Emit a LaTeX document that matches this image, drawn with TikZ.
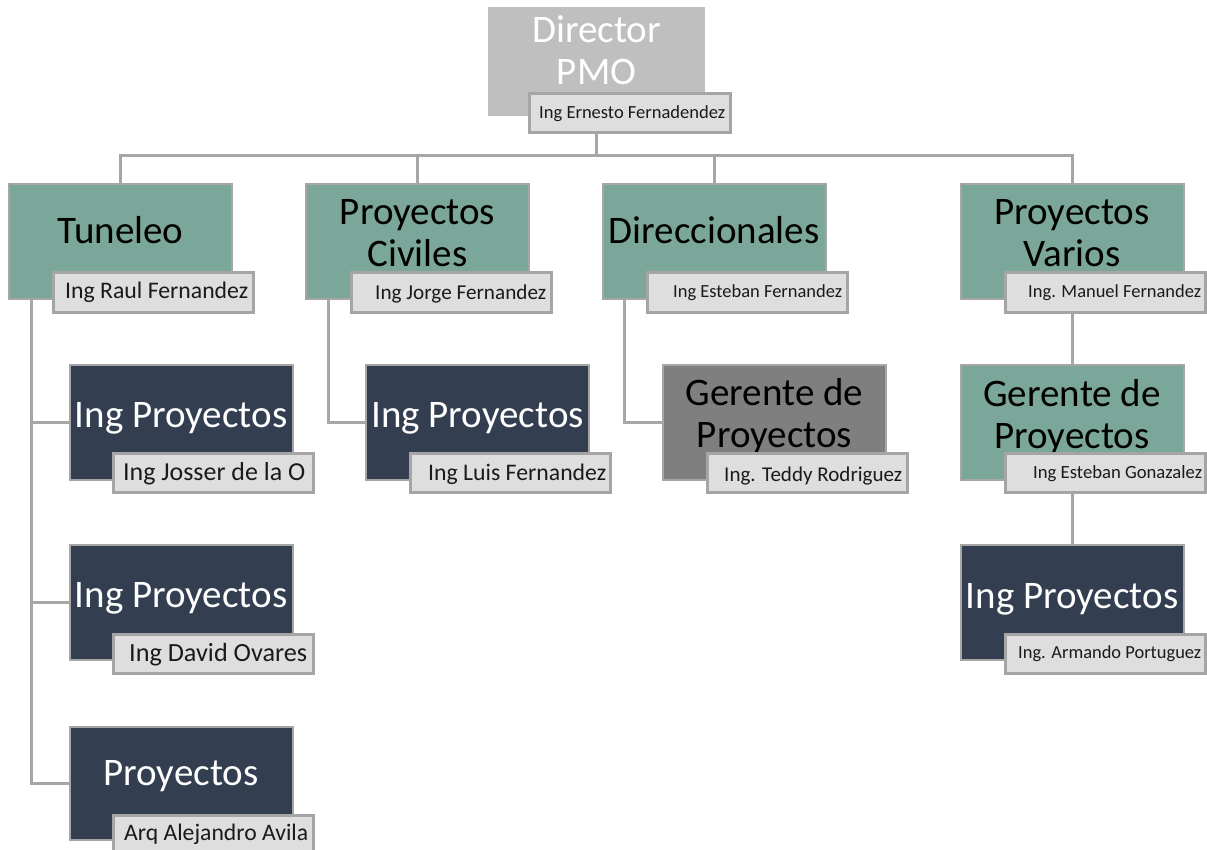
\documentclass[tikz,border=0pt]{standalone}
\usepackage{fontspec}
\setmainfont{Carlito}
\usepackage{graphicx}
\usetikzlibrary{calc}

\definecolor{orgTeal}{HTML}{7AA79A}
\definecolor{orgNavy}{HTML}{333F50}
\definecolor{orgGray}{HTML}{7F7F7F}
\definecolor{orgLight}{HTML}{BFBFBF}
\definecolor{boxEdge}{HTML}{A6A6A6}
\definecolor{tagEdge}{HTML}{A5A5A5}
\definecolor{tagFill}{HTML}{DDDEDD}
\definecolor{lineGray}{HTML}{A6A6A6}
\definecolor{nameInk}{HTML}{1A1A1A}

% two centred lines, baseline on the first one
\newcommand\tworow[2]{\begin{tabular}[t]{@{}c@{}}#1\\#2\end{tabular}}
% a name squeezed to a given width
\newcommand\fitname[2]{\resizebox{#1pt}{!}{\fontsize{20}{24}\selectfont #2}}

\tikzset{
  orgbox/.style={rectangle, draw=boxEdge, line width=2pt, inner sep=0pt,
               minimum width=223pt, minimum height=115pt},
  tealbox/.style={orgbox, fill=orgTeal},
  navybox/.style={orgbox, fill=orgNavy},
  graybox/.style={orgbox, fill=orgGray},
  nametag/.style={rectangle, draw=tagEdge, line width=3pt, fill=tagFill, inner sep=0pt,
              minimum width=200pt, minimum height=39pt},
  roletext/.style={anchor=base, inner sep=0pt, font=\fontsize{39}{42}\selectfont},
  darkrole/.style={roletext, text=black},
  lightrole/.style={roletext, text=white},
  persontext/.style={anchor=base west, inner sep=0pt, text=nameInk},
  conn/.style={draw=lineGray, line width=3pt}
}

\begin{document}
\begin{tikzpicture}[x=1pt, y=-1pt]
\useasboundingbox (0,0) rectangle (1207,850);

% ---------- director ----------
\node[orgbox, draw=none, fill=orgLight, minimum width=217pt, minimum height=109pt] (pmo) at (596.5,61.5) {};
\node[lightrole] (pmoT) at (596.5,43) {\tworow{Director}{PMO}};
\node[nametag, minimum width=201pt] (pmoL) at (629.5,113.5) {};
\node[persontext] (pmoN) at (539,119) {\fitname{186}{Ing Ernesto Fernadendez}};

% ---------- first level ----------
\node[tealbox] (tun) at (120.5,241.5) {};
\node[darkrole] (tunT) at (120.5,244) {Tuneleo};
\node[nametag] (tunL) at (153,292.5) {};
\node[persontext] (tunN) at (65,299) {\fitname{183}{Ing Raul Fernandez}};

\node[tealbox] (civ) at (417.5,241.5) {};
\node[darkrole] (civT) at (417.5,225) {\tworow{Proyectos}{Civiles}};
\node[nametag] (civL) at (451,292.5) {};
\node[persontext] (civN) at (375,299) {\fitname{171}{Ing Jorge Fernandez}};

\node[tealbox] (dir) at (714,241.5) {};
\node[darkrole] (dirT) at (714,244) {Direccionales};
\node[nametag] (dirL) at (747,292.5) {};
\node[persontext] (dirN) at (673,298) {\fitname{169}{Ing Esteban Fernandez}};

\node[tealbox] (var) at (1072,241.5) {};
\node[darkrole] (varT) at (1072,225) {\tworow{Proyectos}{Varios}};
\node[nametag] (varL) at (1105,292.5) {};
\node[persontext] (varN) at (1028,298) {\fitname{173}{Ing. Manuel Fernandez}};

% ---------- second level ----------
\node[navybox] (ipA) at (181,422.5) {};
\node[lightrole] (ipAT) at (181,427) {Ing Proyectos};
\node[nametag] (ipAL) at (213.5,473) {};
\node[persontext] (ipAN) at (123,480) {\fitname{182}{Ing Josser de la O}};

\node[navybox] (ipB) at (181,602.5) {};
\node[lightrole] (ipBT) at (181,607) {Ing Proyectos};
\node[nametag] (ipBL) at (213.5,653.5) {};
\node[persontext] (ipBN) at (129,661) {\fitname{178}{Ing David Ovares}};

\node[navybox, minimum height=113pt] (pro) at (181,783.5) {};
\node[lightrole] (proT) at (181,785) {Proyectos};
\node[nametag, minimum height=40pt] (proL) at (213.5,835) {};
\node[persontext] (proN) at (124,840) {\fitname{184}{Arq Alejandro Avila}};

\node[navybox] (ipC) at (477.5,422.5) {};
\node[lightrole] (ipCT) at (477.5,427) {Ing Proyectos};
\node[nametag] (ipCL) at (510.5,473) {};
\node[persontext] (ipCN) at (428,480) {\fitname{178}{Ing Luis Fernandez}};

\node[graybox] (gerD) at (774.5,422.5) {};
\node[darkrole] (gerDT) at (774.5,405) {\tworow{Gerente de}{Proyectos}};
\node[nametag] (gerDL) at (807.5,473) {};
\node[persontext] (gerDN) at (724,481) {\fitname{178}{Ing. Teddy Rodriguez}};

\node[tealbox] (gerV) at (1072,422.5) {};
\node[darkrole] (gerVT) at (1072,406) {\tworow{Gerente de}{Proyectos}};
\node[nametag] (gerVL) at (1105,473) {};
\node[persontext] (gerVN) at (1033,478) {\fitname{169}{Ing Esteban Gonazalez}};

\node[navybox] (ipV) at (1072,602.5) {};
\node[lightrole] (ipVT) at (1072,608) {Ing Proyectos};
\node[nametag] (ipVL) at (1105,653.5) {};
\node[persontext] (ipVN) at (1018,658) {\fitname{183}{Ing. Armando Portuguez}};

% ---------- connectors ----------
\coordinate (bus) at (0,156);
\draw[conn] (pmo.south |- pmoL.south) -- (pmo.south |- bus);
\draw[conn] (tun.north) -- (tun.north |- bus) -- (var.north |- bus) -- (var.north);
\draw[conn] (civ.north) -- (civ.north |- bus);
\draw[conn] (dir.north) -- (dir.north |- bus);

\coordinate (tunSp) at ($(tun.south west)+(23,0)$);
\draw[conn] (tunSp) |- (pro.west);
\draw[conn] (tunSp |- ipA.west) -- (ipA.west);
\draw[conn] (tunSp |- ipB.west) -- (ipB.west);

\coordinate (civSp) at ($(civ.south west)+(23,0)$);
\draw[conn] (civSp) |- (ipC.west);

\coordinate (dirSp) at ($(dir.south west)+(23,0)$);
\draw[conn] (dirSp) |- (gerD.west);

\draw[conn] (var.south |- varL.south) -- (gerV.north);
\draw[conn] (gerV.south |- gerVL.south) -- (ipV.north);
\end{tikzpicture}
\end{document}
